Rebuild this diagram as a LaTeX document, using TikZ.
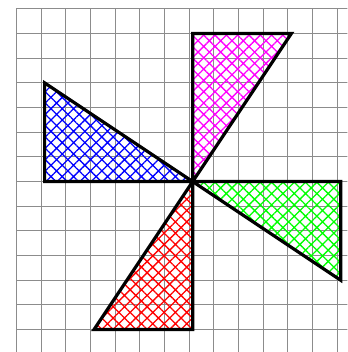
\documentclass[tikz,border=0pt]{standalone}
\usetikzlibrary{patterns.meta}

\begin{document}
\begin{tikzpicture}[
  x=24.66pt, y=24.66pt,
  gridline/.style={black!45, line width=0.8pt},
  blade/.style={draw=black, line width=3.2pt,
    pattern={Hatch[angle=45, distance=8pt, line width=1.3pt]},
    pattern color=#1},
]
  \useasboundingbox (-7.81,-6.91) rectangle (6.27,7.36);
  \clip (-7.81,-6.91) rectangle (6.27,7.36);
  % squared paper
  \draw[gridline, xshift=-3.7pt, step={(1,1)}] (-7,-7.5) grid (6.6,7);
  % the four blades
  \coordinate (c) at (0,0);
  \draw[blade=magenta] (c) -- (0,6) -- (4,6) -- cycle;
  \draw[blade=blue] (c) -- (-6,0) -- (-6,4) -- cycle;
  \draw[blade=red] (c) -- (0,-6) -- (-4,-6) -- cycle;
  \draw[blade=green] (c) -- (6,0) -- (6,-4) -- cycle;
\end{tikzpicture}
\end{document}
